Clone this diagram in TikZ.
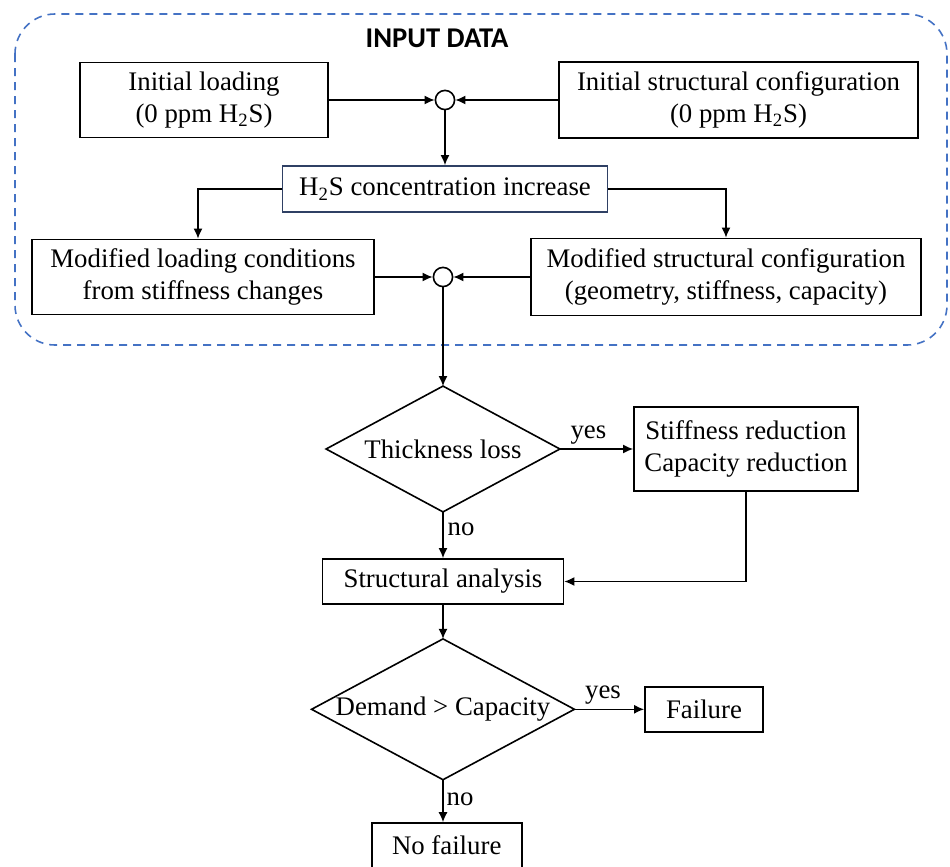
\documentclass[tikz,border=0pt]{standalone}
\usepackage{fontspec}
\setmainfont{Liberation Serif}
\newfontfamily\carlito{Carlito}
\usetikzlibrary{arrows.meta}
\definecolor{dashblue}{RGB}{68,114,196}
\definecolor{navyedge}{RGB}{47,64,100}
\begin{document}
\begin{tikzpicture}[x=0.5pt,y=-0.5pt,
  every node/.style={font=\fontsize{13.4}{16}\selectfont},
  box/.style={draw, line width=0.9pt, align=center, inner sep=0pt},
  junction/.style={draw, circle, line width=0.8pt, minimum size=9.6pt, inner sep=0pt, fill=white},
  decision/.style={inner sep=0pt, align=center},
  diamondline/.style={line width=0.8pt, line join=miter},
  arr/.style={line width=0.7pt, -{Latex[length=5pt,width=4.5pt]}},
  lbl/.style={inner sep=2pt}]
\useasboundingbox (0,0) rectangle (950,867);
\draw[dashblue, dash pattern=on 4pt off 3pt, line width=0.8pt, rounded corners=20pt] (15,14) rectangle (947,345);
\node[font=\carlito\bfseries\fontsize{14.3}{16}\selectfont] (title) at (437,38) {INPUT DATA};
\node[box, minimum width=124pt, minimum height=37.5pt] (il) at (204,100) {Initial loading\\(0 ppm H\textsubscript{2}S)};
\node[junction] (c1) at (445,100) {};
\node[box, minimum width=179.5pt, minimum height=38pt] (isc) at (738.5,100) {Initial structural configuration\\(0 ppm H\textsubscript{2}S)};
\node[box, draw=navyedge, minimum width=162.5pt, minimum height=23pt] (h2s) at (445,189) {H\textsubscript{2}S concentration increase};
\node[box, minimum width=171pt, minimum height=37.5pt] (ml) at (203,277) {Modified loading conditions\\from stiffness changes};
\node[junction] (c2) at (443,277) {};
\node[box, minimum width=195pt, minimum height=38.5pt] (ms) at (726,277) {Modified structural configuration\\(geometry, stiffness, capacity)};
\node[decision, minimum width=116.5pt, minimum height=62.5pt] (tl) at (443,449) {Thickness loss};
\draw[diamondline] (tl.north) -- (tl.east) -- (tl.south) -- (tl.west) -- cycle;
\node[box, minimum width=112pt, minimum height=42pt] (sr) at (746,449) {Stiffness reduction\\Capacity reduction};
\node[box, minimum width=120.5pt, minimum height=22.5pt] (sa) at (443,581.5) {Structural analysis};
\node[decision, minimum width=131pt, minimum height=70pt] (dc) at (443,709.3) {Demand > Capacity};
\draw[diamondline] (dc.north) -- (dc.east) -- (dc.south) -- (dc.west) -- cycle;
\node[box, minimum width=59pt, minimum height=22.5pt] (fa) at (704,709.3) {Failure};
\node[box, minimum width=75pt, minimum height=22.5pt] (nf) at (446.7,845.6) {No failure};
\draw[arr] (il.east) -- (c1.west);
\draw[arr] (isc.west) -- (c1.east);
\draw[arr] (c1.south) -- (h2s.north);
\draw[arr] (h2s.west) -| ([xshift=-2.5pt]ml.north);
\draw[arr] (h2s.east) -| (ms.north);
\draw[arr] (ml.east) -- (c2.west);
\draw[arr] (ms.west) -- (c2.east);
\draw[arr] (c2.south) -- (tl.north);
\draw[arr] (tl.east) -- node[lbl, above, pos=0.39] (yes1) {yes} (sr.west);
\draw[arr] (tl.south) -- node[lbl, right, pos=0.37] (no1) {no} (sa.north);
\draw[arr] (sr.south) |- (sa.east);
\draw[arr] (sa.south) -- (dc.north);
\draw[arr] (dc.east) -- node[lbl, above, pos=0.41] (yes2) {yes} (fa.west);
\draw[arr] (dc.south) -- node[lbl, right, pos=0.45, inner sep=1.5pt] (no2) {no} (dc.south |- nf.north);
\end{tikzpicture}
\end{document}
